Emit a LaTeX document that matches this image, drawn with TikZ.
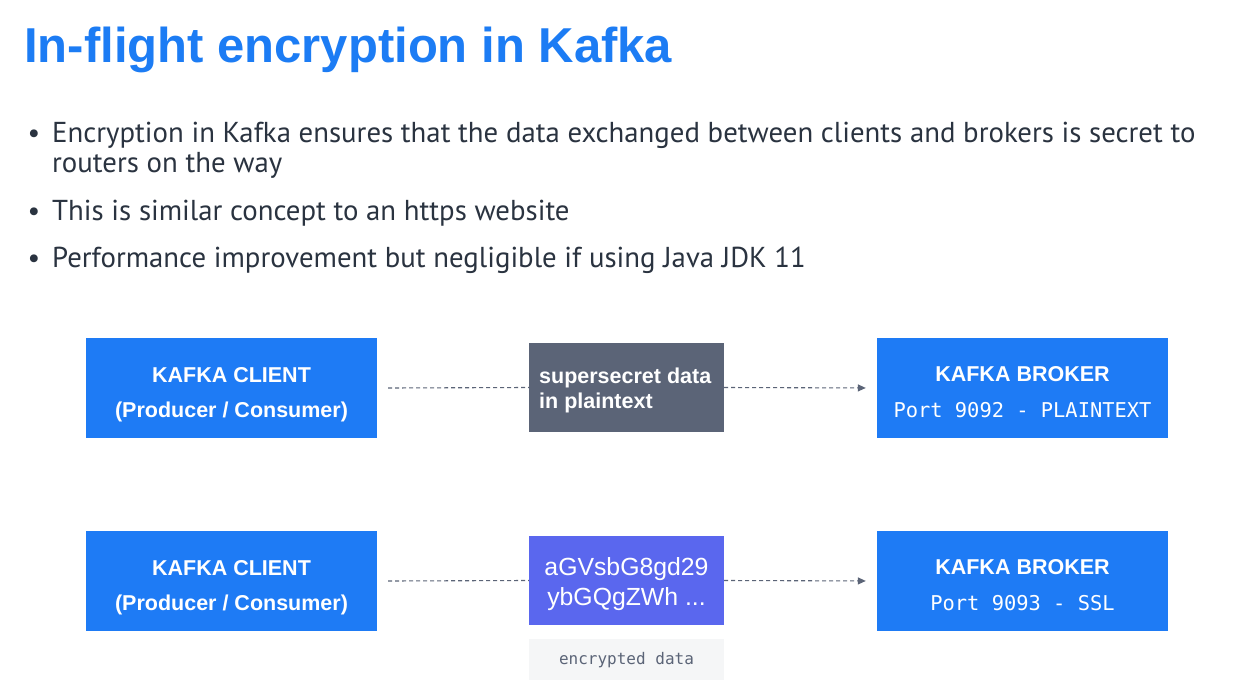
\documentclass[tikz,border=0pt]{standalone}
\usepackage{fontspec}
\setmainfont{PT Sans}
\newfontfamily\boxfont{Liberation Sans}
\newfontfamily\monofont{DejaVu Sans Mono}
\usetikzlibrary{arrows.meta}
\definecolor{titleblue}{HTML}{1C7CF4}
\definecolor{boxblue}{HTML}{1E7BF5}
\definecolor{slate}{HTML}{5B6477}
\definecolor{indigo}{HTML}{5A67EE}
\definecolor{textdark}{HTML}{2A3340}
\definecolor{labelbg}{HTML}{F5F6F7}
\tikzset{
  endbox/.style={fill=boxblue, minimum width=291pt, minimum height=100pt, inner sep=0pt},
  midbox/.style={minimum width=195pt, minimum height=89pt, inner sep=0pt},
  boxhead/.style={anchor=base, inner sep=0pt, text=white, font=\boxfont\bfseries\fontsize{21.5}{26}\selectfont},
  boxmono/.style={anchor=base, inner sep=0pt, text=white, font=\monofont\fontsize{20.4}{26}\selectfont},
  midbold/.style={anchor=base west, inner sep=0pt, text=white, font=\boxfont\bfseries\fontsize{21.5}{26}\selectfont},
  midreg/.style={anchor=base, inner sep=0pt, text=white, font=\boxfont\fontsize{24.8}{30}\selectfont},
  bullettext/.style={anchor=base west, inner sep=0pt, text=textdark, font=\fontsize{28.8}{34}\selectfont},
  bulletdot/.style={anchor=base, inner sep=0pt, text=textdark, font=\fontsize{28}{34}\selectfont},
  flow/.style={draw=slate, line width=1.1pt, dash pattern=on 4pt off 3pt},
  flowarrow/.style={flow, -{Triangle[length=8pt,width=7pt]}},
}
\begin{document}
\begin{tikzpicture}[x=1pt,y=-1pt]
\useasboundingbox[fill=white] (0,0) rectangle (1254,680);
% title
\node[anchor=base west, inner sep=0pt, text=titleblue, font=\boxfont\bfseries\fontsize{49}{56}\selectfont] (title) at (24,62) {In-flight encryption in Kafka};
% bullets
\node[bulletdot] (d1) at (34,142) {•};
\node[bullettext] (l1) at (52,142) {Encryption in Kafka ensures that the data exchanged between clients and brokers is secret to};
\node[bullettext] (l1b) at (52,172) {routers on the way};
\node[bulletdot] (d2) at (34,220) {•};
\node[bullettext] (l2) at (52,220) {This is similar concept to an https website};
\node[bulletdot] (d3) at (34,267) {•};
\node[bullettext] (l3) at (52,267) {Performance improvement but negligible if using Java JDK 11};
% row 1
\node[endbox] (c1) at (231.5,388) {};
\node[boxhead] (c1a) at (231.5,382) {KAFKA CLIENT};
\node[boxhead] (c1b) at (231.5,417) {(Producer / Consumer)};
\node[midbox, fill=slate] (m1) at (626.5,387.5) {};
\node[midbold] (m1a) at (539,383) {supersecret data};
\node[midbold] (m1b) at (539,408) {in plaintext};
\node[endbox] (b1) at (1022.5,388) {};
\node[boxhead] (b1a) at (1022.5,381) {KAFKA BROKER};
\node[boxmono] (b1b) at (1022.5,417) {Port 9092 - PLAINTEXT};
\draw[flow] (c1.east) ++(11,0) -- (m1.west);
\draw[flowarrow, shorten >=11pt] (m1.east) -- (b1.west);
% row 2
\node[endbox] (c2) at (231.5,581) {};
\node[boxhead] (c2a) at (231.5,575) {KAFKA CLIENT};
\node[boxhead] (c2b) at (231.5,610) {(Producer / Consumer)};
\node[midbox, fill=indigo] (m2) at (626.5,580.5) {};
\node[midreg] (m2a) at (626.5,575) {aGVsbG8gd29};
\node[midreg] (m2b) at (626.5,605) {ybGQgZWh ...};
\node[endbox] (b2) at (1022.5,581) {};
\node[boxhead] (b2a) at (1022.5,574) {KAFKA BROKER};
\node[boxmono] (b2b) at (1022.5,610) {Port 9093 - SSL};
\draw[flow] (c2.east) ++(11,0) -- (m2.west);
\draw[flowarrow, shorten >=11pt] (m2.east) -- (b2.west);
\node[fill=labelbg, minimum width=195pt, minimum height=41pt, inner sep=0pt, text=slate, font=\monofont\fontsize{16}{20}\selectfont, anchor=north] (lab) at (626.5,639) {encrypted data};
\end{tikzpicture}
\end{document}
